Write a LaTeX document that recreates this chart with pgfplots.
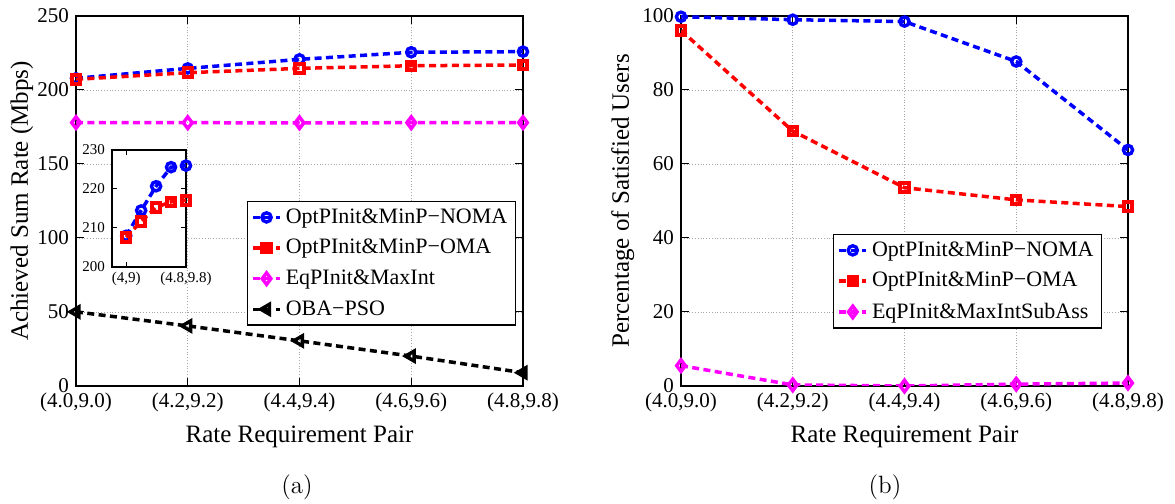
\documentclass[border=0pt]{standalone}
\usepackage{pgfplots}
\pgfplotsset{compat=1.18}
\usepackage{fontspec}
\newfontfamily\tnr{Liberation Serif}
\definecolor{mblue}{rgb}{0,0,1}
\definecolor{mred}{rgb}{1,0,0}
\definecolor{mmag}{rgb}{1,0,1}

\pgfplotsset{
  base/.style={
    scale only axis, width=223.5pt, height=185pt,
    xmin=0, xmax=4, xtick={0,1,2,3,4},
    xticklabels={(4.0,9.0),(4.2,9.2),(4.4,9.4),(4.6,9.6),(4.8,9.8)},
    grid=major,
    major grid style={densely dotted, gray!70, line width=0.4pt},
    tick align=inside, major tick length=4pt,
    tick style={black, line width=0.5pt},
    tick label style={font=\tnr\fontsize{10.5}{12}\selectfont},
    label style={font=\tnr\fontsize{12.5}{15}\selectfont},
    /pgf/number format/assume math mode=true,
    axis line style={line width=0.6pt},
    every axis plot/.append style={line width=1.75pt, dash pattern=on 3.5pt off 2.2pt},
    legend cell align=left,
    legend image code/.code={\draw[mark repeat=2,mark phase=2,##1] plot coordinates {(0pt,0pt) (6.75pt,0pt) (13.5pt,0pt)};},
    legend style={font=\tnr\fontsize{11}{13}\selectfont, draw=black, line width=0.6pt, fill=white,
      inner xsep=2pt, inner ysep=1.5pt, row sep=2.5pt},
  },
  noma/.style={mblue, mark=o, mark size=2.3pt, mark options={solid, line width=1.7pt}},
  oma/.style={mred, mark=square, mark size=2.1pt, mark options={solid, line width=2pt}},
  eqp/.style={mmag, mark=diamond, mark size=2.9pt, mark options={solid, line width=1.7pt}},
  oba/.style={black, mark=triangle, mark size=2.9pt, mark options={solid, line width=1.7pt, rotate=90}},
}

\begin{document}
\begin{tikzpicture}
\useasboundingbox (0,0) rectangle (587.5pt,252pt);

% ---------------- (a) ----------------
\begin{axis}[base, at={(38pt,59pt)}, anchor=south west,
  ymin=0, ymax=250, ytick={0,50,100,150,200,250},
  xlabel={Rate Requirement Pair}, ylabel={Achieved Sum Rate (Mbps)},
  xlabel style={at={(axis description cs:0.5,-0.138)}, anchor=center},
  ylabel style={at={(axis description cs:-0.121,0.5)}, anchor=center},
  legend style={at={(0.984,0.5)}, anchor=north east},
]
\addplot[noma] coordinates {(0,207.9) (1,214.6) (2,220.7) (3,225.5) (4,225.9)};
\addlegendentry{OptPInit\&MinP−NOMA}
\addplot[oma] coordinates {(0,207.2) (1,211.7) (2,214.6) (3,216.4) (4,216.9)};
\addlegendentry{OptPInit\&MinP−OMA}
\addplot[eqp] coordinates {(0,178.0) (1,177.9) (2,177.8) (3,177.9) (4,178.0)};
\addlegendentry{EqPInit\&MaxInt}
\addplot[oba] coordinates {(0,50.1) (1,40.6) (2,30.5) (3,20.2) (4,9.0)};
\addlegendentry{OBA−PSO}
\end{axis}

% inset
\begin{axis}[base, at={(56pt,118.5pt)}, anchor=south west,
  width=37pt, height=58.5pt, grid=none,
  xmin=-0.95, xmax=4, xtick={0,4}, xticklabels={(4,9),(4.8,9.8)},
  ymin=200, ymax=230, ytick={200,210,220,230},
  major tick length=2.5pt,
  tick label style={font=\tnr\fontsize{7.5}{9}\selectfont},
  xticklabel style={yshift=1pt},
  axis background/.style={fill=white},
]
\addplot[noma] coordinates {(0,208.0) (1,214.5) (2,220.7) (3,225.6) (4,226.0)};
\addplot[oma] coordinates {(0,207.6) (1,211.7) (2,215.3) (3,216.7) (4,217.1)};
\end{axis}

% ---------------- (b) ----------------
\begin{axis}[base, at={(340.5pt,59pt)}, anchor=south west,
  ymin=0, ymax=100, ytick={0,20,40,60,80,100},
  xlabel={Rate Requirement Pair}, ylabel={Percentage of Satisfied Users},
  xlabel style={at={(axis description cs:0.5,-0.138)}, anchor=center},
  ylabel style={at={(axis description cs:-0.130,0.5)}, anchor=center},
  legend style={at={(0.942,0.411)}, anchor=north east},
]
\addplot[noma] coordinates {(0,99.8) (1,99.0) (2,98.5) (3,87.7) (4,63.8)};
\addlegendentry{OptPInit\&MinP−NOMA}
\addplot[oma] coordinates {(0,96.1) (1,68.9) (2,53.6) (3,50.3) (4,48.5)};
\addlegendentry{OptPInit\&MinP−OMA}
\addplot[eqp] coordinates {(0,5.5) (1,0.3) (2,0.0) (3,0.5) (4,0.8)};
\addlegendentry{EqPInit\&MaxIntSubAss}
\end{axis}

\node[font=\fontsize{12.5}{15}\selectfont] at (148.5pt,8.5pt) {(a)};
\node[font=\fontsize{12.5}{15}\selectfont] at (442.5pt,8.5pt) {(b)};
\end{tikzpicture}
\end{document}
